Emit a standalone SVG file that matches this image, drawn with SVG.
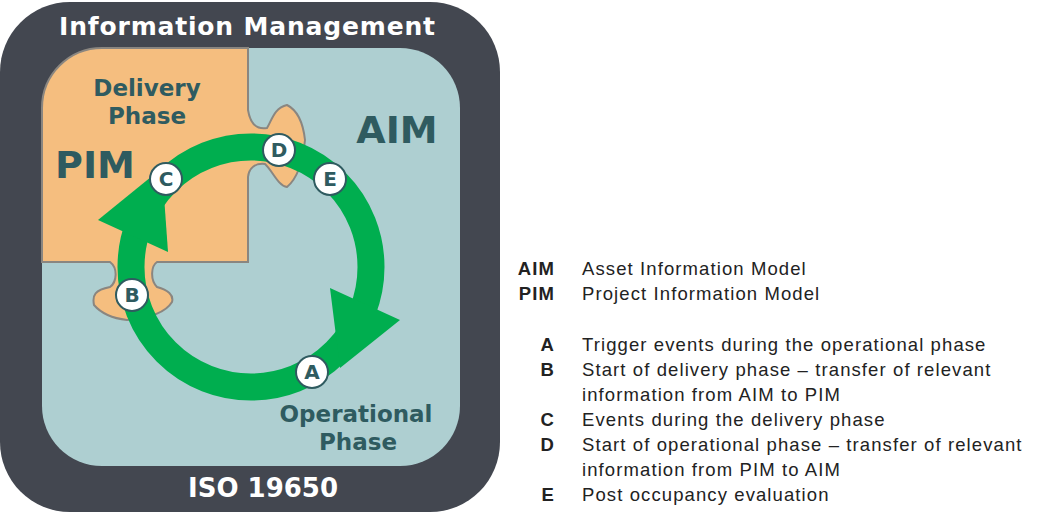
<svg xmlns="http://www.w3.org/2000/svg" width="1038" height="520" viewBox="0 0 1038 520">
<style>
.t{font-family:"DejaVu Sans",Verdana,sans-serif;font-weight:bold;fill:#2f5b60}
.w{font-family:"DejaVu Sans",Verdana,sans-serif;font-weight:bold;fill:#fff}
.l{font-family:"Liberation Sans",Arial,sans-serif;font-size:18.5px;letter-spacing:1.1px;fill:#222}
.lb{font-weight:bold;text-anchor:end}
.c{fill:#fff;stroke:#2f5b60;stroke-width:2}
.ct{font-family:"DejaVu Sans",Verdana,sans-serif;font-weight:bold;font-size:20px;fill:#2f5b60;text-anchor:middle}
</style>
<g id="frame">
<rect x="0" y="2" width="500" height="510" rx="70" fill="#434750"/>
<rect x="42" y="48" width="418" height="418" rx="60" fill="#aecfd1"/>
<path d="M102,48 H248 V110 C250,122 255,130 267,128 C272,120 274,108 287,105 C297,110 303,122 305,140 C303,160 298,178 287,187 C278,186 272,170 265,164 C255,163 249,168 248,177 V262 H157 C151,266 150,280 157,287 C168,290 174,295 172,302 C166,312 150,318 127,320 C110,318 100,312 94,305 C92,295 95,290 110,287 C117,282 118,268 110,262 H42 V108 A60,60 0 0 1 102,48 Z" fill="#f5be7f" stroke="#8a8680" stroke-width="2"/>
</g>
<g id="cycle">
<circle cx="251" cy="267" r="120" fill="none" stroke="#00ae4f" stroke-width="27"/>
<polygon points="98,220 168,252 162,168" fill="#00ae4f"/>
<polygon points="330,288 400,320 340,368" fill="#00ae4f"/>
</g>
<g id="labels">
<text class="w" x="247" y="35" font-size="25" text-anchor="middle" textLength="376">Information Management</text>
<text class="w" x="263" y="497" font-size="26" text-anchor="middle">ISO 19650</text>
<text class="t" x="147" y="96" font-size="23" text-anchor="middle">Delivery</text>
<text class="t" x="147" y="124" font-size="23" text-anchor="middle">Phase</text>
<text class="t" x="95" y="178" font-size="38" text-anchor="middle">PIM</text>
<text class="t" x="397" y="143" font-size="38" text-anchor="middle">AIM</text>
<text class="t" x="356" y="422" font-size="23" text-anchor="middle">Operational</text>
<text class="t" x="358" y="450" font-size="23" text-anchor="middle">Phase</text>
</g>
<g id="nodeA"><circle class="c" cx="312" cy="372" r="16"/><text class="ct" x="312" y="379">A</text></g>
<g id="nodeB"><circle class="c" cx="132" cy="295" r="16"/><text class="ct" x="132" y="302">B</text></g>
<g id="nodeC"><circle class="c" cx="166" cy="179" r="16"/><text class="ct" x="166" y="186">C</text></g>
<g id="nodeD"><circle class="c" cx="279" cy="150" r="16"/><text class="ct" x="279" y="157">D</text></g>
<g id="nodeE"><circle class="c" cx="330" cy="179" r="16"/><text class="ct" x="330" y="186">E</text></g>
<g id="legend">
<text class="l lb" x="555" y="275">AIM</text><text class="l" x="582" y="275">Asset Information Model</text>
<text class="l lb" x="555" y="300">PIM</text><text class="l" x="582" y="300">Project Information Model</text>
<text class="l lb" x="555" y="351">A</text><text class="l" x="582" y="351">Trigger events during the operational phase</text>
<text class="l lb" x="555" y="376">B</text><text class="l" x="582" y="376">Start of delivery phase – transfer of relevant</text>
<text class="l" x="582" y="401">information from AIM to PIM</text>
<text class="l lb" x="555" y="426">C</text><text class="l" x="582" y="426">Events during the delivery phase</text>
<text class="l lb" x="555" y="451">D</text><text class="l" x="582" y="451">Start of operational phase – transfer of relevant</text>
<text class="l" x="582" y="476">information from PIM to AIM</text>
<text class="l lb" x="555" y="501">E</text><text class="l" x="582" y="501">Post occupancy evaluation</text>
</g>
</svg>
